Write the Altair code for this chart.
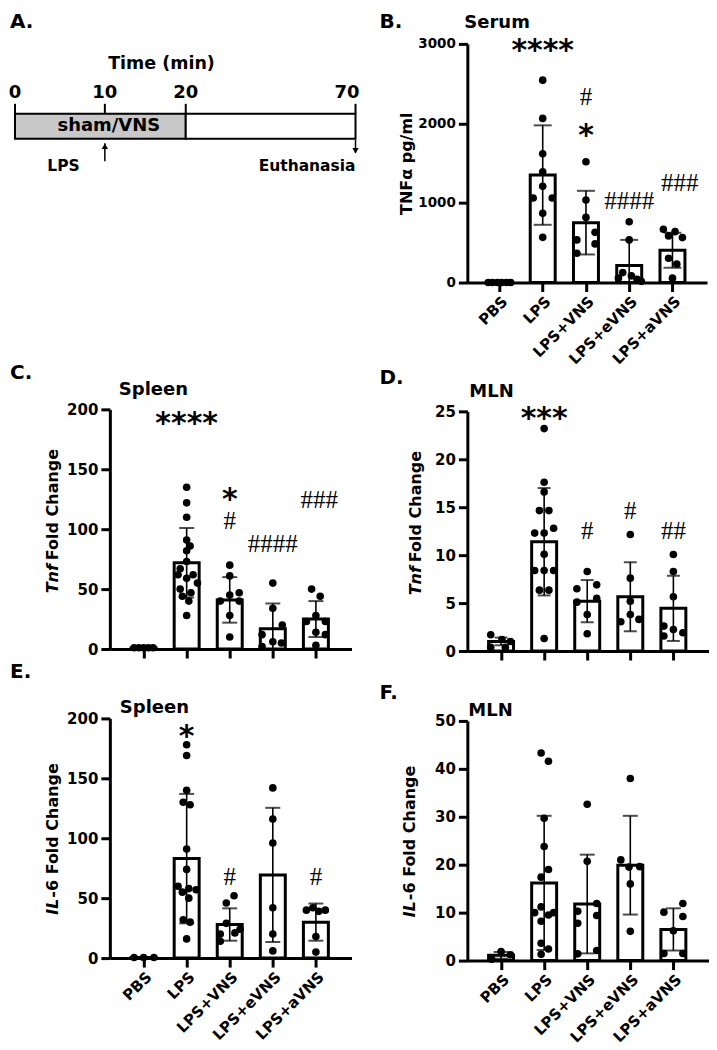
import altair as alt
import pandas as pd

SANS = "DejaVu Sans"
SERIF = "Liberation Serif"
GROUPS = ["PBS", "LPS", "LPS+VNS", "LPS+eVNS", "LPS+aVNS"]

# ---------------- Panel A : protocol timeline ----------------
A_TICKS = [0, 10, 20, 70]
A_TICK_LABELS = ["0", "10", "20", "70"]
A_TICK_LABEL_AT = [0, 10, 20, 67.5]
A_PHASE = ["sham/VNS", ""]
A_PHASE_KIND = ["stim", "rest"]
A_PHASE_START = [0, 20]
A_PHASE_END = [20, 70]
A_EVENTS = ["LPS", "Euthanasia"]
A_EVENT_TIME = [10, 70]
A_EVENT_LABEL_AT = [7.2, 70]

# ---------------- Panel B : serum TNFa (pg/ml) ----------------
B_PBS = [0, 0, 0, 0, 0, 0]
B_PBS_J = [-0.26, -0.16, -0.05, 0.05, 0.16, 0.26]
B_LPS = [2544, 2063, 1619, 1393, 1209, 1063, 1063, 870, 568]
B_LPS_J = [0, 0, 0, 0, 0, -0.22, 0.22, 0, 0]
B_VNS = [1519, 1038, 819, 631, 536, 486, 368]
B_VNS_J = [0, 0, 0, 0.21, -0.21, 0.21, -0.21]
B_EVNS = [765, 536, 125, 84, 55, 40, 15]
B_EVNS_J = [0, 0, -0.15, 0.05, -0.25, 0.18, 0.28]
B_AVNS = [670, 640, 586, 565, 306, 231, 55]
B_AVNS_J = [-0.21, 0.06, -0.09, 0.23, -0.09, 0.1, 0]
B_MEAN = [0, 1351, 753, 213, 406]
B_SD = [0, 625, 400, 323, 220]
B_SIG = ["****", "*", "#", "####", "###"]
B_SIG_X = [1, 2, 2, 3, 4.17]
B_SIG_Y = [3000, 1928, 2330, 1024, 1250]

# ---------------- Panel C : spleen Tnf ----------------
C_PBS = [1, 1, 1, 1, 1]
C_PBS_J = [-0.22, -0.11, 0, 0.11, 0.22]
C_LPS = [135, 122, 110, 91, 86, 82, 73, 67, 62, 62, 59, 55, 50, 47, 44, 40, 28]
C_LPS_J = [0, 0, 0, 0, 0.08, 0, 0, -0.15, 0.15, -0.2, 0, 0.25, -0.15, 0.1, -0.1, 0.05, 0]
C_VNS = [70, 61, 47, 45, 40, 40, 28, 10]
C_VNS_J = [0, 0, 0.22, 0, -0.22, 0.22, 0, 0]
C_EVNS = [55, 34, 20, 12, 6, 5, 2]
C_EVNS_J = [0, 0, 0.22, -0.25, 0, 0.2, -0.25]
C_AVNS = [50, 44, 28, 23, 23, 14, 12, 3]
C_AVNS_J = [-0.1, 0.1, 0, -0.22, 0.22, 0, 0.22, 0]
C_MEAN = [1, 72, 41, 17, 25]
C_SD = [0, 29, 19, 21, 15]
C_SIG = ["****", "*", "#", "####", "###"]
C_SIG_X = [1, 2, 2, 3, 4.08]
C_SIG_Y = [194, 130, 106.7, 87.5, 124]

# ---------------- Panel D : MLN Tnf ----------------
D_PBS = [1.7, 1.2, 1.0, 0.4, 0.4]
D_PBS_J = [-0.24, 0.02, 0.22, -0.24, 0.1]
D_LPS = [23.2, 17.6, 16.6, 14.65, 14.65, 12.8, 12.3, 12.3, 10.1, 8.4, 8.4, 8.4, 6.35, 6.35, 1.3]
D_LPS_J = [0, 0, 0, -0.11, 0.11, 0.22, -0.22, 0, 0, -0.22, 0, 0.22, -0.11, 0.11, 0]
D_VNS = [8.3, 6.9, 6.5, 5.5, 5.1, 3.8, 1.8]
D_VNS_J = [0, 0.22, -0.24, 0.22, -0.24, 0, 0]
D_EVNS = [12.15, 7.6, 5.2, 3.8, 3.3, 3.05]
D_EVNS_J = [0, 0, 0, 0, 0.2, -0.22]
D_AVNS = [10.07, 8.3, 5.66, 2.6, 2.25, 1.9, 1.56]
D_AVNS_J = [0, 0, 0, -0.22, 0, 0.22, -0.22]
D_MEAN = [1.0, 11.4, 5.2, 5.66, 4.45]
D_SD = [0.4, 5.6, 2.2, 3.6, 3.4]
D_SIG = ["***", "#", "#", "##"]
D_SIG_X = [1, 2, 3, 4]
D_SIG_Y = [24.9, 12.5, 14.6, 12.5]

# ---------------- Panel E : spleen IL-6 ----------------
E_PBS = [0.5, 0.5, 0.5]
E_PBS_J = [-0.22, 0, 0.24]
E_LPS = [178, 169, 140, 130, 128, 91, 74, 60, 58, 57, 55, 50, 32, 30, 16]
E_LPS_J = [0, 0, 0, -0.08, 0.08, 0, 0, -0.2, 0.05, 0.22, -0.1, 0.05, -0.08, 0.08, 0]
E_VNS = [52, 46, 29, 24, 21, 20, 14]
E_VNS_J = [0.1, -0.08, -0.08, 0.24, 0.12, -0.22, -0.22]
E_EVNS = [142, 116, 96, 42, 20, 6]
E_EVNS_J = [0, 0, 0, 0, 0, 0]
E_AVNS = [42, 40, 40, 39, 18, 5]
E_AVNS_J = [-0.07, -0.22, 0.22, 0.07, 0, 0]
E_MEAN = [0.5, 83, 28, 69.4, 30]
E_SD = [0, 54, 13.5, 56, 15.5]
E_SIG = ["*", "#", "#"]
E_SIG_X = [1, 2, 4]
E_SIG_Y = [190, 68, 68]

# ---------------- Panel F : MLN IL-6 ----------------
F_PBS = [0.3, 1.9, 1.2]
F_PBS_J = [-0.22, 0, 0.22]
F_LPS = [43.3, 41.6, 29.7, 23.8, 19.0, 17.4, 11.2, 10.0, 9.5, 10.0, 8.2, 3.6, 2.4, 1.3]
F_LPS_J = [-0.07, 0.1, 0, 0, 0.1, -0.07, -0.07, -0.22, 0.1, 0.22, -0.07, -0.07, 0.1, -0.07]
F_VNS = [32.6, 20.7, 11.9, 10.3, 9.4, 7.8, 2.1, 1.4]
F_VNS_J = [0, 0, 0.22, -0.22, 0.22, -0.22, 0.22, -0.22]
F_EVNS = [38, 21, 19.5, 19.6, 16, 6.1]
F_EVNS_J = [0, -0.22, -0.03, 0.22, 0, 0]
F_AVNS = [11.9, 10.1, 9.2, 6.2, 1.5, 1.5]
F_AVNS_J = [0.22, -0.22, 0.22, 0, -0.22, 0.22]
F_MEAN = [1.1, 16.2, 11.8, 19.9, 6.5]
F_SD = [0.7, 14, 10.3, 10.3, 4.4]
F_SIG = []
F_SIG_X = []
F_SIG_Y = []

LABEL_EXPR = "[" + ",".join("'%s'" % g for g in GROUPS) + "][datum.value]"


def txt(s, x, y, size, **kw):
    return alt.Chart(pd.DataFrame({"t": [s]})).mark_text(
        font=SANS, fontWeight="bold", fontSize=size, color="black", **kw
    ).encode(text="t:N", x=alt.value(x), y=alt.value(y))


def panel_a():
    # plot origin shares the left edge of panel C and the top of panel B;
    # the timeline is drawn to the left of it through the scale range.
    xs = alt.Scale(domain=[0, 10, 20, 70], range=[-95, -5, 76, 246], nice=False, zero=False)
    ys = alt.Scale(domain=[0, 3.8], nice=False, zero=False)
    X = lambda f: alt.X(f, scale=xs, axis=None)
    Y = lambda f: alt.Y(f, scale=ys, axis=None)
    ph = pd.DataFrame({"s": A_PHASE_START, "e": A_PHASE_END, "name": A_PHASE,
                       "kind": A_PHASE_KIND, "b": 0.0, "t": 1.0})
    ph["mid"] = (ph["s"] + ph["e"]) / 2
    ph["ym"] = 0.5
    box = alt.Chart(ph).mark_rect(stroke="black", strokeWidth=2).encode(
        x=X("s:Q"), x2="e:Q", y=Y("b:Q"), y2="t:Q",
        fill=alt.Fill("kind:N", scale=alt.Scale(domain=["stim", "rest"], range=["#c8c8c8", "#ffffff"]),
                      legend=None),
    )
    box_lbl = alt.Chart(ph.iloc[:1]).mark_text(font=SANS, fontWeight="bold", fontSize=18,
                                              baseline="middle", dx=4, color="black").encode(
        x=X("mid:Q"), y=Y("ym:Q"), text="name:N")
    tk = pd.DataFrame({"t": A_TICKS, "b": 1.0, "e": 1.4})
    ticks = alt.Chart(tk).mark_rule(strokeWidth=2, color="black").encode(
        x=X("t:Q"), y=Y("b:Q"), y2="e:Q")
    tl = pd.DataFrame({"t": A_TICK_LABEL_AT, "lab": A_TICK_LABELS, "y": 1.64})
    tick_lbl = alt.Chart(tl).mark_text(font=SANS, fontWeight="bold", fontSize=18,
                                       baseline="alphabetic", color="black").encode(
        x=X("t:Q"), y=Y("y:Q"), text="lab:N")
    ttl = pd.DataFrame({"t": [17.0], "y": [2.8], "lab": ["Time (min)"]})
    title = alt.Chart(ttl).mark_text(font=SANS, fontWeight="bold", fontSize=17.5,
                                     baseline="alphabetic", color="black").encode(
        x=X("t:Q"), y=Y("y:Q"), text="lab:N")
    ev = pd.DataFrame({"t": A_EVENT_TIME, "y0": [-0.9, -0.04], "y1": [-0.18, -0.56],
                       "head": [-0.3, -0.48], "shape": ["triangle-up", "triangle-down"],
                       "lab": A_EVENTS, "lx": A_EVENT_LABEL_AT, "ly": -1.08})
    stems = alt.Chart(ev).mark_rule(strokeWidth=1.5, color="black").encode(
        x=X("t:Q"), y=Y("y0:Q"), y2="y1:Q")
    heads = alt.Chart(ev).mark_point(filled=True, size=40, color="black", opacity=1).encode(
        x=X("t:Q"), y=Y("head:Q"), shape=alt.Shape("shape:N", scale=None))
    ev_lbl = alt.Chart(ev).mark_text(font=SANS, fontWeight="bold", fontSize=15.5, align="right",
                                     baseline="middle", color="black").encode(
        x=X("lx:Q"), y=Y("ly:Q"), text="lab:N")
    letter = txt("A.", -100, -15.8, 20, align="left", baseline="alphabetic")
    return alt.layer(box, box_lbl, ticks, tick_lbl, title, stems, heads, ev_lbl, letter).properties(
        width=246, height=95)


def bar_panel(vals, jits, means, sds, ymax, ystep, xdom, width, height, ylab, show_x,
              sig, sig_x, sig_y, letter, letter_xy, title, title_xy, ytitle, ytitle_x, cap_w, xlab=15):
    xs = alt.Scale(domain=xdom, nice=False, zero=False)
    ys = alt.Scale(domain=[0, ymax], nice=False, zero=True)
    common = dict(grid=False, domainColor="black", domainWidth=3,
                  tickColor="black", tickWidth=3, tickSize=9, labelFont=SANS,
                  labelFontWeight="bold", labelColor="black", labelFlush=False, title=None)
    xaxis = alt.Axis(values=[0, 1, 2, 3, 4], labelExpr=LABEL_EXPR, labels=show_x, labelAngle=-45,
                     labelFontSize=xlab, labelPadding=2, labelOverlap=False, **common)
    yaxis = alt.Axis(values=list(range(0, ymax + 1, ystep)), format="d", labelFontSize=ylab,
                     labelPadding=3, **common)
    X = lambda f: alt.X(f, scale=xs, axis=xaxis)
    Y = lambda f: alt.Y(f, scale=ys, axis=yaxis)

    rows = []
    for gi, (vv, jj) in enumerate(zip(vals, jits)):
        for v, j in zip(vv, jj):
            rows.append({"x": gi + j, "v": v})
    dots = pd.DataFrame(rows)
    bdf = pd.DataFrame({"x": list(range(5)), "mean": means, "sd": sds})
    bdf["hi"] = bdf["mean"] + bdf["sd"]
    bdf["lo"] = (bdf["mean"] - bdf["sd"]).clip(lower=0)
    err = bdf[bdf["sd"] > 0]
    low_ok = err["mean"] - err["sd"] > 0
    caps = pd.concat([
        pd.DataFrame({"x": err["x"], "c": err["hi"]}),
        pd.DataFrame({"x": err["x"][low_ok], "c": (err["mean"] - err["sd"])[low_ok]}),
    ])

    bars = alt.Chart(bdf).mark_bar(size=25, fill="white", stroke="black", strokeWidth=3).encode(
        x=X("x:Q"), y=Y("mean:Q"))
    rules = alt.Chart(err).mark_rule(strokeWidth=1.6, color="black").encode(
        x=X("x:Q"), y=Y("lo:Q"), y2="hi:Q")
    capl = alt.Chart(caps).mark_tick(orient="horizontal", size=cap_w, thickness=2, color="black").encode(
        x=X("x:Q"), y=Y("c:Q"))
    pts = alt.Chart(dots).mark_circle(size=58, color="black", opacity=1).encode(
        x=X("x:Q"), y=Y("v:Q"))
    layers = [bars, rules, capl, pts]
    sdf = pd.DataFrame({"t": sig, "x": sig_x, "y": sig_y})
    if len(sdf):
        star = sdf[sdf["t"].str.contains(r"\*")]
        hsh = sdf[~sdf["t"].str.contains(r"\*")]
        if len(star):
            layers.append(alt.Chart(star).mark_text(font=SANS, fontWeight="bold", fontSize=30,
                                                    baseline="middle", dy=7, color="black").encode(
                x=X("x:Q"), y=Y("y:Q"), text="t:N"))
        if len(hsh):
            layers.append(alt.Chart(hsh).mark_text(font=SERIF, fontSize=25, baseline="middle",
                                                   color="black").encode(
                x=X("x:Q"), y=Y("y:Q"), text="t:N"))
    layers.append(txt(letter, letter_xy[0], letter_xy[1], 20, align="left", baseline="alphabetic"))
    layers.append(txt(title, title_xy[0], title_xy[1], 18, align="left", baseline="alphabetic"))
    for s, ital, al, yy in ytitle:
        layers.append(alt.Chart(pd.DataFrame({"t": [s]})).mark_text(
            font=SANS, fontWeight="bold", fontStyle="italic" if ital else "normal", fontSize=16,
            angle=270, align=al, baseline="middle", color="black").encode(
            text="t:N", x=alt.value(ytitle_x), y=alt.value(yy)))
    return alt.layer(*layers).properties(width=width, height=height)


XD_B = [-0.627, 4.683]
XD = [-0.667, 4.711]

pB = bar_panel([B_PBS, B_LPS, B_VNS, B_EVNS, B_AVNS], [B_PBS_J, B_LPS_J, B_VNS_J, B_EVNS_J, B_AVNS_J],
               B_MEAN, B_SD, 3000, 1000, XD_B, 240, 239, 13.5, True, B_SIG, B_SIG_X, B_SIG_Y,
               "B.", (-88, -15.8), "Serum", (-3, -16), [("TNFα pg/ml", False, "center", 120)], -60, 18)
pC = bar_panel([C_PBS, C_LPS, C_VNS, C_EVNS, C_AVNS], [C_PBS_J, C_LPS_J, C_VNS_J, C_EVNS_J, C_AVNS_J],
               C_MEAN, C_SD, 200, 50, XD, 242, 240, 15, False, C_SIG, C_SIG_X, C_SIG_Y,
               "C.", (-100, -30.4), "Spleen", (9, -14),
               [("Tnf", True, "right", 155), ("Fold Change", False, "left", 151)], -57, 15)
pD = bar_panel([D_PBS, D_LPS, D_VNS, D_EVNS, D_AVNS], [D_PBS_J, D_LPS_J, D_VNS_J, D_EVNS_J, D_AVNS_J],
               D_MEAN, D_SD, 25, 5, XD, 242, 240, 15, False, D_SIG, D_SIG_X, D_SIG_Y,
               "D.", (-88, -27.4), "MLN", (2, -14),
               [("Tnf", True, "right", 155), ("Fold Change", False, "left", 151)], -51, 13)
pE = bar_panel([E_PBS, E_LPS, E_VNS, E_EVNS, E_AVNS], [E_PBS_J, E_LPS_J, E_VNS_J, E_EVNS_J, E_AVNS_J],
               E_MEAN, E_SD, 200, 50, XD, 242, 240, 15, True, E_SIG, E_SIG_X, E_SIG_Y,
               "E.", (-100, -40.4), "Spleen", (10, -5),
               [("IL", True, "right", 180.5), ("-6 Fold Change", False, "left", 179.5)], -57, 15)
pF = bar_panel([F_PBS, F_LPS, F_VNS, F_EVNS, F_AVNS], [F_PBS_J, F_LPS_J, F_VNS_J, F_EVNS_J, F_AVNS_J],
               F_MEAN, F_SD, 50, 10, XD, 242, 240, 15, True, F_SIG, F_SIG_X, F_SIG_Y,
               "F.", (-88, -22.4), "MLN", (1, -5),
               [("IL", True, "right", 180.5), ("-6 Fold Change", False, "left", 179.5)], -57, 15)

left = alt.concat(panel_a(), alt.concat(pC, pE, columns=1, spacing=1.5, align="none"),
                  columns=1, spacing=188, align="none")
right = alt.concat(pB, alt.concat(pD, pF, columns=1, spacing=20, align="none"),
                   columns=1, spacing=0, align="none")
chart = alt.concat(left, right, columns=2, spacing=19, align="none").properties(
    padding={"left": 0, "top": 3.2, "right": 0, "bottom": 0}
).configure_view(stroke=None)

chart.save("out.html", embed_options={"renderer": "svg", "actions": False})
